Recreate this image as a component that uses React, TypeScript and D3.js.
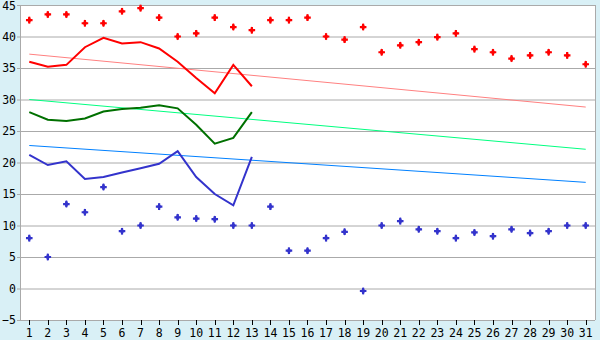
import React from "react";
import * as d3 from "d3";

const days: number[] = Array.from({ length: 31 }, (_, i) => i + 1);
const yTicks: number[] = [-5, 0, 5, 10, 15, 20, 25, 30, 35, 40, 45];

const highPoints: number[] = [42.6, 43.5, 43.5, 42.1, 42.1, 44.0, 44.5, 43.0, 40.0, 40.5, 43.0, 41.5, 41.0, 42.6, 42.6, 43.0, 40.0, 39.5, 41.5, 37.5, 38.6, 39.1, 39.9, 40.5, 38.0, 37.5, 36.5, 37.0, 37.5, 37.0, 35.6];
const lowPoints: number[] = [8.0, 5.0, 13.4, 12.1, 16.1, 9.1, 10.0, 13.0, 11.3, 11.1, 11.0, 10.0, 10.0, 13.0, 6.0, 6.0, 8.0, 9.0, -0.4, 10.0, 10.7, 9.4, 9.1, 8.0, 8.9, 8.3, 9.4, 8.8, 9.1, 10.0, 10.0];
const redLine: number[] = [36.0, 35.2, 35.5, 38.3, 39.8, 38.9, 39.1, 38.1, 36.0, 33.4, 31.0, 35.5, 32.1];
const greenLine: number[] = [28.0, 26.8, 26.6, 27.0, 28.1, 28.5, 28.7, 29.1, 28.6, 26.0, 23.0, 23.9, 28.0];
const blueLine: number[] = [21.2, 19.6, 20.2, 17.4, 17.7, 18.4, 19.1, 19.8, 21.8, 17.7, 15.0, 13.2, 20.9];
const redTrend: number[] = [37.2, 28.8];
const greenTrend: number[] = [30.0, 22.1];
const blueTrend: number[] = [22.7, 16.85];

const W = 600, H = 340;
const M = { left: 20, right: 5, top: 5, bottom: 20 };

export default function App() {
  const x = d3.scaleBand<number>().domain(days).range([M.left, W - M.right]).padding(0);
  const cx = (d: number) => (x(d) as number) + x.bandwidth() / 2;
  const y = d3.scaleLinear().domain([-5, 45]).range([H - M.bottom, M.top]);
  const line = d3.line<number>().x((_, i) => cx(days[i])).y((v) => y(v));
  const trend = (t: number[]) => `M${cx(days[0])},${y(t[0])}L${cx(days[days.length - 1])},${y(t[1])}`;
  const cross = d3.symbol().type(d3.symbolCross).size(24)() as string;
  const diamond = d3.symbol().type(d3.symbolDiamond).size(16)() as string;
  const font = "'DejaVu Sans Mono', monospace";
  const marker = (key: string, v: number, i: number, color: string) => (
    <g key={key} transform={`translate(${cx(days[i])},${y(v)})`} fill={color}>
      <path d={cross} />
      <path d={diamond} />
    </g>
  );
  return (
    <svg width={W} height={H} style={{ position: "absolute", left: 0, top: 0, display: "block" }}>
      <rect x={0} y={0} width={W} height={H} fill="#d9f0f6" />
      <rect x={M.left} y={M.top} width={W - M.left - M.right} height={H - M.top - M.bottom} fill="#ffffff" />
      {yTicks.map((t) => (
        <g key={t}>
          <line x1={M.left - 3} x2={W - M.right} y1={y(t) + 0.5} y2={y(t) + 0.5} stroke="#aaaaaa" strokeWidth={1} />
          <text x={M.left - 4} y={Math.max(y(t), 5.5)} dy="0.35em" textAnchor="end" fontFamily={font} fontSize={11.5} fill="#000">
            {t < 0 ? "\u2212" + Math.abs(t) : t}
          </text>
        </g>
      ))}
      <line x1={M.left + 0.5} x2={M.left + 0.5} y1={M.top} y2={H - M.bottom} stroke="#aaaaaa" />
      <line x1={W - M.right + 0.5} x2={W - M.right + 0.5} y1={M.top} y2={H - M.bottom} stroke="#aaaaaa" />
      {days.map((d) => (
        <g key={d}>
          <line x1={Math.round(cx(d)) + 0.5} x2={Math.round(cx(d)) + 0.5} y1={H - M.bottom} y2={H - M.bottom + 5} stroke="#000" />
          <text x={cx(d)} y={H - 3} textAnchor="middle" fontFamily={font} fontSize={11.5} fill="#000">{d}</text>
        </g>
      ))}
      <path d={trend(redTrend)} stroke="#ff8080" strokeWidth={1} fill="none" />
      <path d={trend(greenTrend)} stroke="#00ff80" strokeWidth={1} fill="none" />
      <path d={trend(blueTrend)} stroke="#0080ff" strokeWidth={1} fill="none" />
      <path d={line(redLine) as string} stroke="#ff0000" strokeWidth={2} fill="none" />
      <path d={line(greenLine) as string} stroke="#007000" strokeWidth={2} fill="none" />
      <path d={line(blueLine) as string} stroke="#3333cc" strokeWidth={2} fill="none" />
      {highPoints.map((v, i) => marker("h" + i, v, i, "#ff0000"))}
      {lowPoints.map((v, i) => marker("l" + i, v, i, "#3333cc"))}
    </svg>
  );
}
